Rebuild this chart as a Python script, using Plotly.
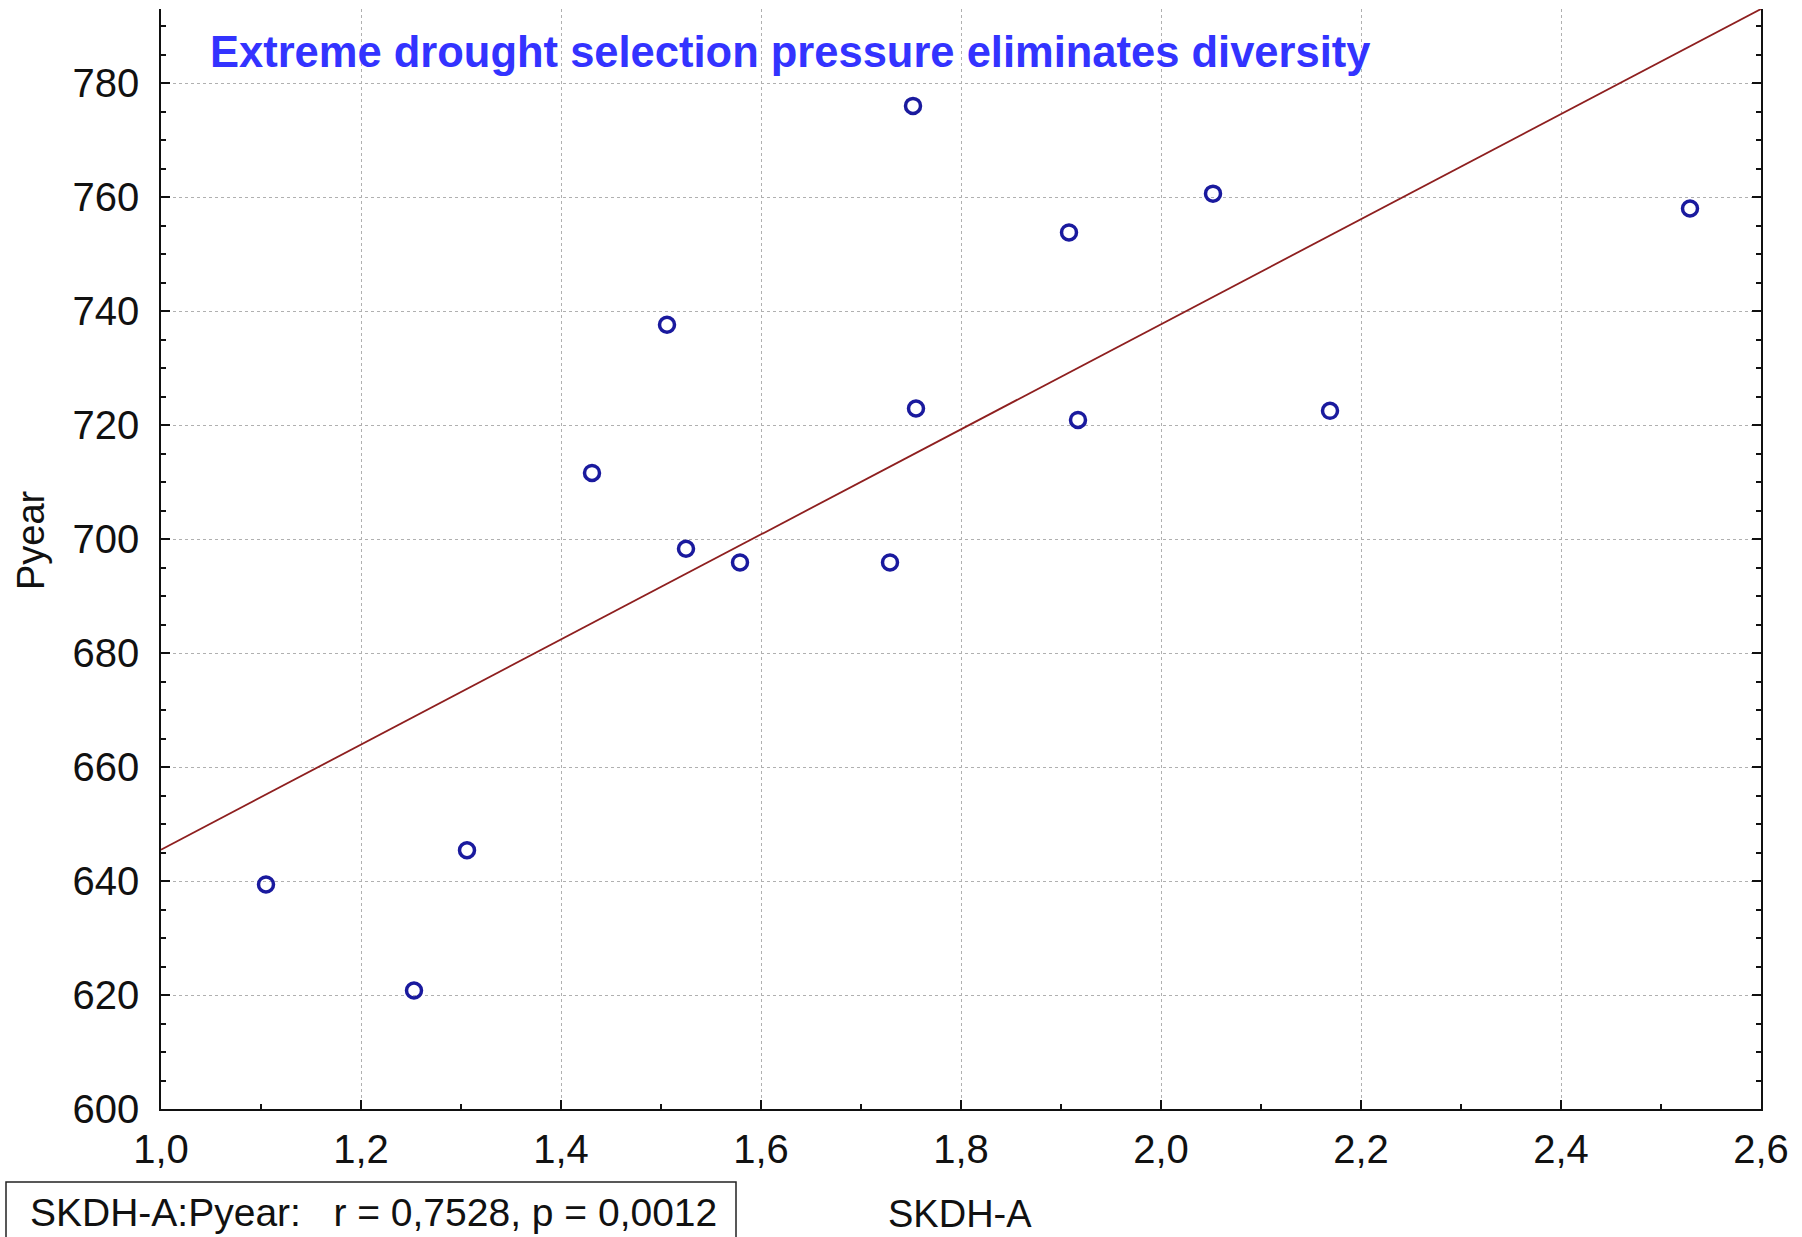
import plotly.graph_objects as go

# Data
skdh_a = [1.105, 1.253, 1.306, 1.431, 1.506, 1.525, 1.579, 1.729, 1.752, 1.755,
          1.908, 1.917, 2.052, 2.169, 2.529]
pyear = [639.4, 620.8, 645.4, 711.6, 737.6, 698.3, 695.9, 695.9, 776.0, 722.9,
         753.8, 720.9, 760.6, 722.5, 758.0]
fit_x = [1.0, 2.6]
fit_y = [645.5, 793.0]

title_text = "Extreme drought selection pressure eliminates diversity"
stat_text = "SKDH-A:Pyear:   r = 0,7528, p = 0,0012"
x_title = "SKDH-A"
y_title = "Pyear"

W, H = 1802, 1237
L, R, T, B = 161, 1761, 9, 1109


def xp(px):
    return (px - L) / (R - L)


def yp(py):
    return (B - py) / (B - T)


FONT = "Liberation Sans, Arial, sans-serif"

fig = go.Figure()
fig.add_trace(go.Scatter(x=fit_x, y=fit_y, mode="lines",
                         line=dict(color="#8e1f1f", width=1.8),
                         hoverinfo="skip", showlegend=False))
fig.add_trace(go.Scatter(x=skdh_a, y=pyear, mode="markers",
                         marker=dict(symbol="circle-open", size=15, color="#1a1a9e",
                                     line=dict(width=3.5, color="#1a1a9e")),
                         showlegend=False))

axis_common = dict(
    showline=True, linecolor="#111111", linewidth=1.5,
    ticks="inside", ticklen=9, tickwidth=1.5, tickcolor="#111111",
    showgrid=True, gridcolor="#b0b0b0", gridwidth=1, griddash="dot",
    zeroline=False,
    tickfont=dict(family=FONT, size=40, color="#111111"),
)

fig.update_xaxes(range=[1.0, 2.6], dtick=0.2, tick0=1.0, tickformat=".1f",
                 mirror=False, ticklabelstandoff=4,
                 minor=dict(dtick=0.1, tick0=1.0, ticks="inside", ticklen=5,
                            tickwidth=1.5, tickcolor="#111111", showgrid=False),
                 **axis_common)
fig.update_yaxes(range=[600, 793], dtick=20, tick0=600, tickformat="d",
                 mirror="ticks", ticklabelstandoff=12,
                 minor=dict(dtick=5, tick0=600, ticks="inside", ticklen=5,
                            tickwidth=1.5, tickcolor="#111111", showgrid=False),
                 **axis_common)

shapes = [
    # white box behind the title
    dict(type="rect", xref="paper", yref="paper", x0=xp(190), x1=xp(1402),
         y0=yp(92), y1=1.0, fillcolor="white", line=dict(width=0), layer="between"),
    # statistics box
    dict(type="rect", xref="paper", yref="paper", x0=xp(6), x1=xp(736),
         y0=yp(1250), y1=yp(1182), fillcolor="rgba(0,0,0,0)",
         line=dict(color="#222222", width=1.5), layer="above"),
]

annotations = [
    dict(text=title_text, xref="paper", yref="paper", x=xp(208), y=yp(52),
         xanchor="left", yanchor="middle", showarrow=False,
         font=dict(family="Liberation Sans Narrow, Arial Narrow, Liberation Sans, sans-serif",
                   size=43.5, color="#3333ff", weight="bold")),
    dict(text=stat_text, xref="paper", yref="paper", x=xp(28), y=yp(1212),
         xanchor="left", yanchor="middle", showarrow=False,
         font=dict(family=FONT, size=39, color="#111111")),
    dict(text=x_title, xref="paper", yref="paper", x=xp(960), y=yp(1214),
         xanchor="center", yanchor="middle", showarrow=False,
         font=dict(family=FONT, size=38, color="#111111")),
    dict(text=y_title, xref="paper", yref="paper", x=xp(31), y=yp(540),
         xanchor="center", yanchor="middle", showarrow=False, textangle=-90,
         font=dict(family=FONT, size=38, color="#111111")),
]

fig.update_layout(
    width=W, height=H,
    margin=dict(l=L, r=W - R, t=T, b=H - B),
    paper_bgcolor="white", plot_bgcolor="white",
    separators=",.",
    shapes=shapes, annotations=annotations,
    showlegend=False,
)

fig.write_html("out.html")
